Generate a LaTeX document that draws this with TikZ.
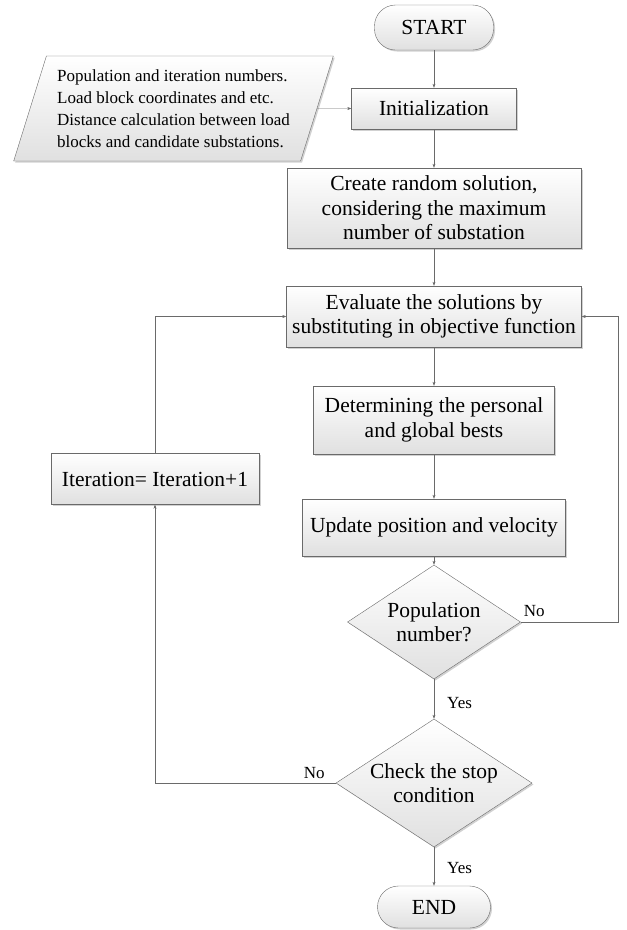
\documentclass[tikz,border=0pt]{standalone}
\usepackage{fontspec}
\setmainfont{Liberation Serif}
\usepackage{tikz}
\usetikzlibrary{arrows.meta}
\usetikzlibrary{positioning}
\usetikzlibrary{shapes.geometric}
\usetikzlibrary{shadows}
\definecolor{edgegray}{HTML}{6A6A6A}
\definecolor{fillgray}{HTML}{E0E0E0}

\begin{document}
\begin{tikzpicture}[x=1pt,y=-1pt]

    \useasboundingbox (0,0) rectangle (627,930);

    \tikzset{
        flowbox/.style={draw=edgegray, top color=white, bottom color=fillgray, align=center, inner sep=0pt,
            font=\fontsize{21.5}{24.5}\selectfont,
            drop shadow={shadow xshift=1.5pt, shadow yshift=-1.5pt, fill=black, opacity=.18}},
        term/.style={flowbox, rounded corners=21pt, minimum width=119, minimum height=45},
        decision/.style={flowbox, diamond, shape aspect=1.53},
        iobox/.style={flowbox, trapezium, trapezium left angle=69, trapezium right angle=111, trapezium stretches=true,
            align=left, font=\fontsize{17}{22}\selectfont},
        flow/.style={draw=edgegray, -{Stealth[length=4pt,width=3pt]}},
        lbl/.style={font=\fontsize{17}{20}\selectfont, inner sep=1pt}
    }

    % terminals
    \node[term] (start) at (434,27.5) {START};
    \node[term, minimum width=113, minimum height=42] (end) at (434,907) {END};

    % input data
    \node[iobox, minimum width=321, minimum height=105] (input) at (173.5,108.5) {Population and iteration numbers.\\Load block coordinates and etc.\\Distance calculation between load\\blocks and candidate substations.};

    % process steps
    \node[flowbox, minimum width=165, minimum height=41] (init) at (434,108.5) {Initialization};
    \node[flowbox, minimum width=294, minimum height=80] (create) at (434,208) {Create random solution,\\considering the maximum\\number of substation};
    \node[flowbox, minimum width=295, minimum height=61] (eval) at (434,316.5) {Evaluate the solutions by\\substituting in objective function};
    \node[flowbox, minimum width=241, minimum height=68] (best) at (434,420) {Determining the personal\\and global bests};
    \node[flowbox, minimum width=263, minimum height=57] (update) at (434,527.5) {Update position and velocity};
    \node[flowbox, minimum width=208, minimum height=51] (iter) at (155,479) {Iteration= Iteration+1};

    % decisions
    \node[decision, minimum width=173, minimum height=114] (pop) at (434,622) {Population\\number?};
    \node[decision, minimum width=196, minimum height=128] (stop) at (434,783) {Check the stop\\condition};

    % main line
    \draw[flow] (start) -- (init);
    \draw[flow] (input.east) -- (init.west);
    \draw[flow] (init) -- (create);
    \draw[flow] (create) -- (eval);
    \draw[flow] (eval) -- (best);
    \draw[flow] (best) -- (update);
    \draw[flow] (update) -- (pop);
    \draw[flow] (pop) -- node[lbl, right=12pt, yshift=-4pt]{Yes} (stop);
    \draw[flow] (stop) -- node[lbl, right=12pt, yshift=-2pt]{Yes} (end);

    % loops back
    \coordinate (rturn) at (618,622);
    \coordinate (lturn) at (155,783);
    \draw[flow] (pop.east) -- (rturn) |- (eval.east);
    \node[lbl, anchor=south west] at ([xshift=2pt,yshift=4pt]pop.east) {No};
    \draw[flow] (stop.west) -- (lturn) -- (iter.south);
    \draw[flow] (iter.north) |- (eval.west);
    \node[lbl, anchor=south east] at ([xshift=-10pt,yshift=3pt]stop.west) {No};

\end{tikzpicture}
\end{document}
